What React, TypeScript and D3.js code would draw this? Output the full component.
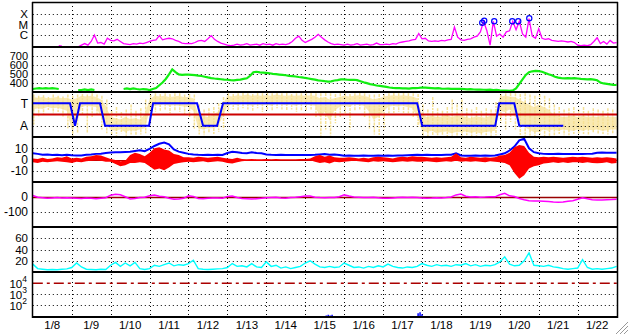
import React from "react";
import * as d3 from "d3";

// ---------- data ----------
const dayLabels = ["1/8","1/9","1/10","1/11","1/12","1/13","1/14","1/15","1/16","1/17","1/18","1/19","1/20","1/21","1/22"];

// GOES X-ray flux, log10(W/m^2), every 2 h from 1/8 00:00
const xrayLog: (number | null)[] = [
  null,null,null,null,null,null,null,null,-7.0,-7.05,null,null,
  null,null,-7.1,-6.95,-6.8,-6.95,-6.6,-6.0,-6.75,-6.7,-6.85,-6.3,
  -6.5,-6.55,-6.4,-6.6,-6.8,-6.85,-6.9,-6.8,-6.85,-6.75,-6.8,-6.7,
  -6.6,-6.5,-6.45,-6.05,-6.45,-6.35,-6.3,-6.35,-6.5,-6.6,-6.75,-6.8,
  -6.78,-6.8,-6.7,-6.55,-6.5,-6.6,-6.35,-6.05,-6.4,-6.6,-6.75,-6.85,
  -6.95,-7.0,-6.95,-6.85,-6.95,-6.9,-6.8,-6.95,-6.9,-6.85,-6.95,-6.8,
  -6.9,-6.85,-6.95,-6.8,-6.9,-6.85,-6.9,-6.8,-6.6,-6.3,-6.1,-6.5,
  -6.7,-6.55,-6.4,-6.2,-5.93,-6.2,-6.45,-6.65,-6.8,-6.9,-6.85,-6.9,
  -6.95,-6.85,-6.95,-6.9,-6.8,-6.95,-6.9,-6.85,-6.95,-6.9,-6.75,-6.9,
  -6.9,-6.85,-6.9,-6.8,-6.85,-6.7,-6.65,-6.6,-6.55,-6.45,-6.4,-5.85,
  -6.35,-6.3,-6.55,-6.6,-6.55,-6.6,-6.5,-6.55,-6.45,-6.4,-5.25,-6.2,
  -6.45,-6.5,-6.4,-6.35,-6.2,-6.1,-5.7,-4.72,-5.6,-6.95,-4.72,-6.1,
  -5.9,-6.2,-5.7,-5.6,-4.72,-5.5,-4.72,-5.9,-6.2,-4.45,-6.1,-6.3,
  -5.4,-6.3,-6.4,-6.35,-6.5,-6.55,-6.6,-6.55,-6.6,-6.65,-6.6,-6.7,
  -6.95,-7.0,-6.95,-7.0,-6.9,-6.6,-6.25,-6.8,-6.6,-6.85,-6.5,-6.75,-6.7
];

// M-class flare peaks (day since 1/8 00:00, log10 flux)
const flareDays = [11.548, 11.599, 11.856, 12.319, 12.473, 12.756];
const flareLog = [-4.84, -4.65, -4.71, -4.71, -4.71, -4.43];

// Solar wind speed km/s, every 2 h
const speed: (number | null)[] = [
  333,339,344,339,344,339,344,339,333,null,null,null,
  null,null,322,322,328,322,328,322,null,null,null,null,
  null,null,null,null,333,339,333,339,333,328,333,330,
  322,333,344,375,405,445,495,550,520,495,490,492,
  492,490,488,482,478,470,462,455,450,446,442,438,
  436,432,430,434,438,445,452,480,520,525,518,515,
  512,508,502,498,494,490,486,480,476,472,467,463,
  456,450,444,438,430,425,420,416,418,428,432,440,
  440,436,434,436,432,420,408,398,388,380,372,368,
  362,356,350,346,344,342,340,341,338,342,344,346,
  350,348,346,344,340,342,338,336,338,335,334,336,
  334,332,330,331,328,326,327,325,324,326,322,324,
  318,316,315,314,318,340,390,440,490,520,530,535,
  532,525,512,498,486,470,460,455,452,455,452,454,
  450,446,444,440,444,438,430,405,395,390,385,380,378
];

// IMF sector (T = 90, A = 270) at transition days
const sectorDays = [0,0.956,1.085,1.213,1.727,1.856,2.987,3.09,4.221,4.375,4.735,4.889,9.877,10.005,11.882,11.985,12.371,12.499,13.63];
const sectorVals = [90,90,270,90,90,270,270,90,90,270,270,90,90,270,270,90,90,270,270];

// IMF phi angle spread (deg), every 3 h: dense core and extremes
const phiCoreLo = [
  40,45,40,50,45,40,50,45, 60,50,30,35,30,40,60,110, 200,210,220,200,215,210,220,180,
  60,30,35,30,40,35,30,40, 40,50,180,190,200,180,160,100, 30,35,25,30,20,30,25,30,
  25,30,20,25,30,25,30,25, 30,25,30,50,40,60,50,40, 30,35,30,25,30,40,60,50,
  40,30,25,30,25,30,35,50, 180,200,190,200,195,180,200,190, 190,200,210,195,200,205,190,180,
  40,30,35,40,60,80,100,120, 100,120,140,180,190,200,195,190, 200,190,200,195,200,190,200,195,200
];
const phiCoreHi = [
  140,130,135,120,130,125,135,150, 300,250,120,110,115,120,200,260, 300,310,300,320,305,310,300,290,
  150,110,105,100,110,105,110,115, 120,150,290,300,290,290,280,200, 110,100,105,95,100,110,100,105,
  100,110,95,100,105,100,110,100, 100,105,110,200,160,230,150,120, 110,120,100,105,110,150,220,200,
  160,120,110,115,110,120,130,200, 310,320,310,330,320,315,330,320, 320,315,325,320,330,320,315,310,
  150,160,140,180,240,280,300,320, 320,300,310,300,310,300,305,310, 300,310,300,305,300,310,305,300,300
];
const phiExtLo = [
  20,30,25,40,20,30,35,20, 30,20,15,20,10,20,30,60, 150,120,160,140,100,150,130,60,
  20,10,15,10,15,10,10,20, 15,20,100,140,130,120,90,40, 10,15,10,8,10,15,8,10,
  8,10,8,10,8,15,10,10, 10,8,10,10,8,10,15,10, 10,15,10,8,10,20,20,15,
  15,10,8,10,8,10,10,15, 100,140,40,130,150,120,60,100, 60,130,140,120,150,130,140,80,
  15,10,8,10,15,10,20,30, 15,30,50,100,120,140,130,120, 140,120,150,130,140,150,130,140,150
];
const phiExtHi = [
  260,200,180,150,170,160,200,290, 350,330,180,330,200,180,300,330, 340,350,330,350,340,350,340,330,
  250,160,150,140,170,150,160,180, 200,300,340,345,330,340,320,300, 160,140,150,130,140,150,130,160,
  140,150,130,140,150,140,160,150, 150,140,200,355,300,350,250,200, 180,300,150,140,200,300,340,360,
  300,180,170,160,170,180,200,280, 350,355,345,355,350,355,350,355, 355,350,355,350,355,350,350,345,
  250,300,240,300,350,355,355,355, 355,355,350,345,340,345,350,340, 340,335,340,330,340,335,340,330,330
];

// IMF Bt (nT), every 3 h
const btVals = [
  5.5,5.0,4.2,4.5,4.0,4.3,3.8,4.2, 3.8,3.5,3.6,4.2,4.5,5.0,5.2,5.8, 6.2,6.5,6.4,6.6,6.8,7.5,8.2,7.4,
  9.5,12,14,15,13.5,9,7,6, 5,4.5,4.2,4.0,4.2,4.0,4.3,4.0, 5.8,6.8,6.5,5.8,5.6,6.4,5.8,5.5,
  4.5,4.2,4.0,4.2,4.0,4.0,4.1,4.0, 4.0,4.0,4.2,4.5,4.8,4.2,4.5,4.0, 3.4,3.5,3.4,3.4,3.5,3.4,3.4,3.6,
  3.4,3.5,3.4,3.6,3.5,3.8,4.0,4.2, 4.0,4.2,4.0,4.1,4.0,4.2,4.3,5.5, 3.6,3.4,3.4,3.5,3.4,3.6,3.4,3.5,
  4.5,5.5,8,11.5,17,18.5,10,6.5, 5.5,5.0,4.9,4.8,5.0,4.9,4.8,4.9, 4.9,4.8,5.0,5.2,6.0,6.2,6.0,6.1,6.0
];
// IMF Bz range (nT), every 3 h
const bzLo = [
  -2.5,-3,-2,-2.5,-2,-1.5,-2,-2.5, -3,-2,-2.5,-1.5,-1,-0.5,-1,-2, -2,-4,-6,-5,-3,-3,-2.5,-3,
  -6,-9,-8,-9.5,-7,-4,-3,-2.5, -2,-2.5,-2,-1.5,-2.5,-2,-1.5,-2, -3,-3.5,-2.5,-1.5,-1,-1.2,-1,-1,
  -0.8,-0.5,-0.6,-0.4,-0.5,-0.3,-0.5,-0.4, -0.5,-0.6,-2,-3,-2.5,-3.5,-2,-2.5, -2,-1.5,-1,-1.5,-2,-2.5,-1.5,-2,
  -1.5,-2,-2.5,-2,-1.5,-2,-1.5,-2, -2,-1.5,-2,-2.5,-2,-1.5,-2,-1, -2,-1.5,-2,-1.5,-2,-2.5,-1.5,-2,
  -2.5,-3,-5,-12,-17,-14,-8,-6, -5,-3.5,-3,-2.5,-3,-2.5,-3,-2.5, -2.5,-3,-2.5,-3,-3.4,-3,-2.5,-3.5,-3
];
const bzHi = [
  1,0.5,1.5,0.5,1,2,1.5,3, 1,1.5,1,2.5,3,4,3.5,2, 0.5,-0.5,-1.5,-1,4,6,5,3,
  6,10,11,9,8,5,4,2, 2,1.5,2.5,2,1.5,2,2.5,1.5, 1,0.5,1.5,0.5,0.3,0.5,0.2,0.3,
  0.4,0.3,0.5,0.3,0.2,0.4,0.3,0.5, 0.5,0.8,3,4,2.5,3.5,2,1.5, 1.5,2,1.5,1,1.5,1,2,2.5,
  2,1.5,1,2,2.5,2,3,2.5, 2.5,2,1.5,2,1.5,2,2.5,5.5, 2,1.5,2.5,2,1.5,2,1.5,2,
  3.5,4,6,11,13,12,6,2.5, 2,2.5,2,2.5,2,1.5,2,2.5, 2,2.5,2,1.5,2,1.5,2,1.5,1
];

// Dst (nT), every 3 h
const dstVals = [
  10,-2,-5,-8,-6,-4,-7,-5, -6,-8,-10,-7,-9,-11,-8,-5, 12,18,15,2,-13,-10,-3,-2,
  8,13,5,2,-8,-15,-14,-9, 8,4,-10,-12,-9,-7,-6,-8, 4,7,-3,-10,-12,-14,-11,-9,
  -5,-3,-2,-6,-8,-4,-2,2, 6,7,-2,-4,-5,-3,-4,2, 14,6,0,-2,-4,-3,-2,-5,
  -8,-9,-6,-3,-2,-3,-2,-4, -6,-8,-7,-5,-6,-4,0,14, 20,5,0,1,-1,0,2,1,
  15,24,8,3,-10,-18,-25,-27, -27,-28,-30,-33,-35,-33,-28,-25, -15,-5,-12,-18,-20,-20,-18,-17,-15
];

// Proton density (/cc), every 3 h
const density = [
  14,6,5,4,4.5,4,5,5.5, 8,16,9,5,4.5,4,5,4.5, 12,17,10,16,11,17,6,4.5,
  6,12,10,13,16,11,13,12, 15,21,6,5,4.5,5,5.5,6, 8,15,10,11,9,15,9,8,
  18,10,12,7,9,6,8,10, 16,20,14,9,8,10,8,9, 16,12,8,9,7,10,8,11,
  9,14,10,8,7,9,8,10, 15,12,10,13,11,12,10,13, 12,15,11,13,10,12,11,13,
  18,27,14,11,12,20,34,12, 11,10,12,9,8,6,5,6, 7,22,8,5,6,5,6,7,10
];

// >2 MeV electron flux (log10), sparse points
const electronDays = [7.54, 7.59, 7.64, 7.69, 8.95, 9.90, 9.95, 10.0, 10.80];
const electronLog = [1.0, 1.05, 1.0, 1.05, 0.95, 1.2, 1.3, 1.1, 0.95];

// ticks
const xrayTickLabels = ["X", "M", "C"];
const xrayTickVals = [1e-4, 1e-5, 1e-6];
const speedTicks = [700, 600, 500, 400];
const sectorTickLabels = ["T", "A"];
const sectorTickVals = [90, 270];
const bTicks = [10, 0, -10];
const dstTicks = [0, -100];
const densTicks = [60, 40, 20];
const eTickExps = [4, 3, 2];
const eThreshold = 1e4;

// ---------- layout ----------
const W = 628, H = 334;
const LEFT = 32.8, RIGHT = 616.6, FRAME_R = 617.5;
const P = [2, 47, 92, 137, 182, 227, 272];
const BOTTOM = 317;
const FONT = "'Liberation Sans', Arial, sans-serif";

export default function App() {
  const x = d3.scaleLinear().domain([0, 15]).range([LEFT, RIGHT]);
  const yX = d3.scaleLog().domain([Math.pow(10, -7.12), Math.pow(10, -2.9)]).range([P[1], P[0]]);
  const yV = d3.scaleLinear().domain([300, 800]).range([P[2], P[1]]);
  const yPhi = d3.scaleLinear().domain([0, 360]).range([P[2], P[3]]);
  const yB = d3.scaleLinear().domain([-20, 20]).range([P[4], P[3]]);
  const yD = d3.scaleLinear().domain([-200, 100]).range([P[5], P[4]]);
  const yN = d3.scaleLinear().domain([0, 80]).range([P[6], P[5]]);
  const yE = d3.scaleLog().domain([Math.pow(10, 0.85), Math.pow(10, 5.06)]).range([BOTTOM, P[6]]);

  const t2 = (i: number) => i / 12;
  const t3 = (j: number) => j / 8;

  const xrayLine = d3.line<number | null>()
    .defined((d) => d !== null)
    .x((_, i) => x(t2(i)))
    .y((d) => yX(Math.pow(10, d as number)));
  const speedLine = d3.line<number | null>()
    .defined((d) => d !== null)
    .x((_, i) => x(t2(i)))
    .y((d) => yV(d as number));
  const sectorLine = d3.line<number>()
    .x((_, i) => x(sectorDays[i]))
    .y((d) => yPhi(d));
  const phiArea = d3.area<number>()
    .x((_, j) => x(t3(j)))
    .y0((d) => yPhi(d))
    .y1((_, j) => yPhi(phiCoreHi[j]));
  const btLine = d3.line<number>().x((_, j) => x(t3(j))).y((d) => yB(d));
  const bzArea = d3.area<number>()
    .x((_, j) => x(t3(j)))
    .y0((d) => yB(d))
    .y1((_, j) => yB(bzHi[j]));
  const dstLine = d3.line<number>().x((_, j) => x(t3(j))).y((d) => yD(d));
  const densLine = d3.line<number>().x((_, j) => x(t3(j))).y((d) => yN(d));

  const snap = (v: number) => Math.round(v) + 0.5;
  const hgrid = (y: number, key: string) => (
    <line key={key} x1={LEFT} x2={FRAME_R} y1={snap(y)} y2={snap(y)} stroke="#000" strokeWidth={1} strokeDasharray="1,3" />
  );
  const label = (y: number, txt: string, key: string, fs = 12) => (
    <text key={key} x={28} y={y} dy="0.36em" textAnchor="end" fontSize={fs} fontFamily={FONT} fill="#000">{txt}</text>
  );

  const yellow = "#f6e194";

  return (
    <svg width={W} height={H} style={{ position: "absolute", left: 0, top: 0, background: "#fff" }}>
      <defs>
        {P.map((top, k) => (
          <clipPath id={`clip${k}`} key={k}>
            <rect x={LEFT} y={top} width={FRAME_R - LEFT} height={(k < 6 ? P[k + 1] : BOTTOM) - top} />
          </clipPath>
        ))}
      </defs>
      <rect x={0} y={0} width={W} height={H} fill="#fff" />

      {/* Panel 3 yellow phi scatter (under grid) */}
      <g clipPath="url(#clip2)">
        {phiExtLo.map((lo, j) => (
          <line key={j} x1={x(t3(j)) + 1} x2={x(t3(j)) + 1} y1={yPhi(lo)} y2={yPhi(phiExtHi[j])} stroke={yellow} strokeWidth={1.5} strokeDasharray="3,1,2,1" />
        ))}
        <path d={phiArea(phiCoreLo) || ""} fill={yellow} fillOpacity={0.72} />
      </g>

      {/* vertical day grid */}
      {d3.range(1, 15).map((k) => (
        <line key={`v${k}`} x1={snap(x(k))} x2={snap(x(k))} y1={P[0]} y2={BOTTOM} stroke="#000" strokeWidth={1} strokeDasharray="1,3" />
      ))}

      {/* horizontal grids */}
      {xrayTickVals.map((v, i) => hgrid(yX(v), `gx${i}`))}
      {speedTicks.map((v, i) => hgrid(yV(v), `gv${i}`))}
      {sectorTickVals.map((v, i) => hgrid(yPhi(v), `gp${i}`))}
      {bTicks.filter((v) => v !== 0).map((v, i) => hgrid(yB(v), `gb${i}`))}
      {dstTicks.filter((v) => v !== 0).map((v, i) => hgrid(yD(v), `gd${i}`))}
      {densTicks.map((v, i) => hgrid(yN(v), `gn${i}`))}
      {eTickExps.filter((e) => Math.pow(10, e) !== eThreshold).map((e, i) => hgrid(yE(Math.pow(10, e)), `ge${i}`))}

      {/* Panel 1: X-ray */}
      <g clipPath="url(#clip0)">
        <path d={xrayLine(xrayLog) || ""} fill="none" stroke="#ff00ff" strokeWidth={1.3} />
      </g>
      {flareDays.map((d, i) => (
        <circle key={`f${i}`} cx={x(d)} cy={yX(Math.pow(10, flareLog[i]))} r={2.6} fill="none" stroke="#0000ff" strokeWidth={1.2} />
      ))}

      {/* Panel 2: speed */}
      <g clipPath="url(#clip1)">
        <path d={speedLine(speed) || ""} fill="none" stroke="#11ee11" strokeWidth={2.2} />
      </g>

      {/* Panel 3: sector */}
      <g clipPath="url(#clip2)">
        <line x1={LEFT} x2={FRAME_R} y1={yPhi(180)} y2={yPhi(180)} stroke="#cc0000" strokeWidth={2} />
        <path d={sectorLine(sectorVals) || ""} fill="none" stroke="#0000ff" strokeWidth={2} />
      </g>

      {/* Panel 4: Bt / Bz */}
      <g clipPath="url(#clip3)">
        <line x1={LEFT} x2={FRAME_R} y1={snap(yB(0))} y2={snap(yB(0))} stroke="#cc0000" strokeWidth={1} />
        <path d={btLine(btVals) || ""} fill="none" stroke="#0000ff" strokeWidth={2} />
        <path d={bzArea(bzLo) || ""} fill="#ff0000" />
      </g>

      {/* Panel 5: Dst */}
      <g clipPath="url(#clip4)">
        <line x1={LEFT} x2={FRAME_R} y1={snap(yD(0))} y2={snap(yD(0))} stroke="#990000" strokeWidth={1.5} />
        <path d={dstLine(dstVals) || ""} fill="none" stroke="#ff00ff" strokeWidth={1.5} />
      </g>

      {/* Panel 6: density */}
      <g clipPath="url(#clip5)">
        <path d={densLine(density) || ""} fill="none" stroke="#00ffff" strokeWidth={1.4} />
      </g>

      {/* Panel 7: electrons */}
      <g clipPath="url(#clip6)">
        <line x1={LEFT} x2={FRAME_R} y1={yE(eThreshold)} y2={yE(eThreshold)} stroke="#aa0000" strokeWidth={1.5} strokeDasharray="10,4,3,4" />
        {electronDays.map((d, i) => (
          <line key={`e${i}`} x1={x(d)} x2={x(d)} y1={BOTTOM} y2={yE(Math.pow(10, electronLog[i]))} stroke="#0000ff" strokeWidth={1.5} />
        ))}
      </g>

      {/* frame and separators */}
      <line x1={32.5} x2={32.5} y1={P[0]} y2={BOTTOM + 1} stroke="#000" strokeWidth={1.5} />
      <line x1={FRAME_R} x2={FRAME_R} y1={P[0]} y2={BOTTOM + 1} stroke="#000" strokeWidth={1.5} />
      <line x1={32} x2={FRAME_R + 0.5} y1={2.5} y2={2.5} stroke="#000" strokeWidth={1.5} />
      {P.slice(1).concat([BOTTOM]).map((y, i) => (
        <line key={`s${i}`} x1={32} x2={FRAME_R + 0.5} y1={y} y2={y} stroke="#000" strokeWidth={2} />
      ))}

      {/* y labels */}
      {xrayTickVals.map((v, i) => label(yX(v), xrayTickLabels[i], `lx${i}`, 11.5))}
      {speedTicks.map((v, i) => label(yV(v), String(v), `lv${i}`, 11))}
      {sectorTickVals.map((v, i) => label(yPhi(v), sectorTickLabels[i], `lp${i}`))}
      {bTicks.map((v, i) => label(yB(v), String(v), `lb${i}`))}
      {dstTicks.map((v, i) => label(yD(v), String(v), `ld${i}`))}
      {densTicks.map((v, i) => label(yN(v), String(v), `ln${i}`, 11.5))}
      {eTickExps.map((e, i) => (
        <text key={`le${i}`} x={27} y={yE(Math.pow(10, e)) + 5} textAnchor="end" fontSize={11.5} fontFamily={FONT} fill="#000">
          10<tspan dy={-6} fontSize={8.5}>{e}</tspan>
        </text>
      ))}

      {/* x labels */}
      {dayLabels.map((l, k) => (
        <text key={`dl${k}`} x={x(k + 0.5)} y={329} textAnchor="middle" fontSize={11.5} fontFamily={FONT} fill="#000">{l}</text>
      ))}

      {/* resize grip */}
      {[4, 8, 12].map((k) => (
        <g key={`g${k}`}>
          <line x1={W - k} y1={H} x2={W} y2={H - k} stroke="#999" strokeWidth={1} />
          <line x1={W - k + 1} y1={H} x2={W} y2={H - k + 1} stroke="#fff" strokeWidth={1} />
        </g>
      ))}
    </svg>
  );
}
